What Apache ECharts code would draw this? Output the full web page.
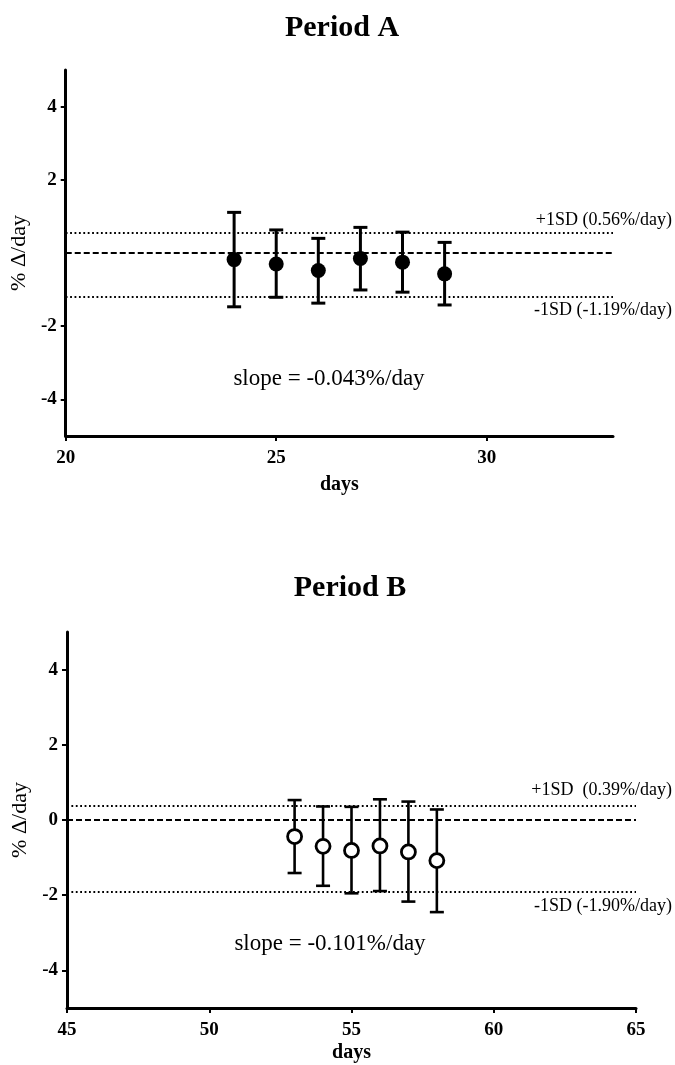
<!DOCTYPE html>
<html><head><meta charset="utf-8">
<script src="https://cdn.jsdelivr.net/npm/echarts@6/dist/echarts.min.js"></script>
<style>html,body{margin:0;padding:0;background:#fff}#c{width:675px;height:1065px}</style>
</head><body><div id="c"></div>
<script>
// ---- data ----
const titles = ['Period A', 'Period B'];
const daysA = [24, 25, 26, 27, 28, 29];
const meanA = [-0.18, -0.30, -0.48, -0.15, -0.25, -0.57];
const upperA = [1.11, 0.63, 0.40, 0.70, 0.57, 0.29];
const lowerA = [-1.47, -1.21, -1.37, -1.01, -1.07, -1.42];
const sdLinesA = [0.56, -1.19];
const sdLabelsA = ['+1SD (0.56%/day)', '-1SD (-1.19%/day)'];

const daysB = [53, 54, 55, 56, 57, 58];
const meanB = [-0.44, -0.70, -0.81, -0.69, -0.85, -1.08];
const upperB = [0.53, 0.36, 0.35, 0.55, 0.49, 0.28];
const lowerB = [-1.41, -1.75, -1.95, -1.89, -2.17, -2.45];
const sdLinesB = [0.39, -1.90];
const sdLabelsB = ['+1SD  (0.39%/day)', '-1SD (-1.90%/day)'];

const slopeLabels = ['slope = -0.043%/day', 'slope = -0.101%/day'];
const xTicksA = [20, 25, 30];
const xTicksB = [45, 50, 55, 60, 65];
const yTicksA = [4, 2, -2, -4];
const yTicksB = [4, 2, 0, -2, -4];
const xRangeA = [20, 33];
const xRangeB = [45, 65];
const yRange = [-5, 5];

// ---- chart ----
const FONT = '"Liberation Serif", "DejaVu Serif", serif';
const chart = echarts.init(document.getElementById('c'), null, {renderer: 'canvas'});

function xAxis(idx, range, ticks, gap) {
  return {
    type: 'value', gridIndex: idx, min: range[0], max: range[1],
    name: 'days', nameLocation: 'middle', nameGap: gap,
    nameTextStyle: {fontFamily: FONT, fontWeight: 'bold', fontSize: 20, color: '#000'},
    axisLine: {show: true, onZero: false, lineStyle: {color: '#000', width: 3}},
    axisTick: {show: true, length: 5, customValues: ticks, lineStyle: {color: '#000', width: 2}},
    axisLabel: {customValues: ticks, margin: 13, fontFamily: FONT, fontWeight: 'bold', fontSize: 19, color: '#000'},
    splitLine: {show: false}
  };
}
function yAxis(idx, ticks) {
  return {
    type: 'value', gridIndex: idx, min: yRange[0], max: yRange[1],
    name: '% \u0394/day', nameLocation: 'middle', nameGap: 27, nameRotate: 90,
    nameTextStyle: {fontFamily: FONT, fontSize: 22, color: '#000'},
    axisLine: {show: true, onZero: false, lineStyle: {color: '#000', width: 3}},
    axisTick: {show: true, length: 5, customValues: ticks, lineStyle: {color: '#000', width: 2}},
    axisLabel: {customValues: ticks, margin: 9, fontFamily: FONT, fontWeight: 'bold', fontSize: 19, color: '#000'},
    splitLine: {show: false}
  };
}
function errorSeries(idx, days, up, lo, lw) {
  return {
    type: 'custom', xAxisIndex: idx, yAxisIndex: idx, silent: true, z: 3,
    data: days.map((d, i) => [d, lo[i], up[i]]),
    encode: {x: 0, y: [1, 2]},
    renderItem(params, api) {
      const x = api.value(0);
      const p1 = api.coord([x, api.value(1)]);
      const p2 = api.coord([x, api.value(2)]);
      const hw = 7;
      const style = {stroke: '#000', lineWidth: lw, fill: null};
      return {type: 'group', children: [
        {type: 'line', shape: {x1: p1[0], y1: p1[1], x2: p2[0], y2: p2[1]}, style},
        {type: 'line', shape: {x1: p1[0] - hw, y1: p1[1], x2: p1[0] + hw, y2: p1[1]}, style},
        {type: 'line', shape: {x1: p2[0] - hw, y1: p2[1], x2: p2[0] + hw, y2: p2[1]}, style}
      ]};
    }
  };
}
function refLines(idx, sd) {
  return {
    type: 'line', xAxisIndex: idx, yAxisIndex: idx, data: [], silent: true, z: 1,
    markLine: {
      symbol: 'none', silent: true, animation: false, label: {show: false},
      data: [
        {yAxis: 0, lineStyle: {color: '#000', width: 2, type: [6, 3]}},
        {yAxis: sd[0], lineStyle: {color: '#000', width: 1.8, type: [1.8, 2.6]}},
        {yAxis: sd[1], lineStyle: {color: '#000', width: 1.8, type: [1.8, 2.6]}}
      ]
    }
  };
}

const option = {
  animation: false,
  backgroundColor: '#fff',
  grid: [
    {left: 65, top: 70, width: 548, height: 366},
    {left: 67, top: 632, width: 569, height: 376}
  ],
  xAxis: [xAxis(0, xRangeA, xTicksA, 39), xAxis(1, xRangeB, xTicksB, 35)],
  yAxis: [yAxis(0, yTicksA), yAxis(1, yTicksB)],
  series: [
    refLines(0, sdLinesA),
    refLines(1, sdLinesB),
    errorSeries(0, daysA, upperA, lowerA, 3),
    errorSeries(1, daysB, upperB, lowerB, 2.6),
    {type: 'scatter', xAxisIndex: 0, yAxisIndex: 0, z: 5, symbol: 'circle', symbolSize: 15,
      itemStyle: {color: '#000', opacity: 1}, data: daysA.map((d, i) => [d, meanA[i]])},
    {type: 'scatter', xAxisIndex: 1, yAxisIndex: 1, z: 5, symbol: 'circle', symbolSize: 14,
      itemStyle: {color: '#fff', borderColor: '#000', borderWidth: 2.8, opacity: 1}, data: daysB.map((d, i) => [d, meanB[i]])}
  ]
};
chart.setOption(option);

// annotations positioned from the axes
function txt(x, y, text, size, align, weight) {
  return {type: 'text', x, y, z: 10, style: {text, fontFamily: FONT, fontSize: size, fontWeight: weight || 'normal',
    fill: '#000', align: align, verticalAlign: 'middle'}};
}
const g = [];
const pA1 = chart.convertToPixel({gridIndex: 0}, [xRangeA[1], sdLinesA[0]]);
const pA2 = chart.convertToPixel({gridIndex: 0}, [xRangeA[1], sdLinesA[1]]);
const pB1 = chart.convertToPixel({gridIndex: 1}, [xRangeB[1], sdLinesB[0]]);
const pB2 = chart.convertToPixel({gridIndex: 1}, [xRangeB[1], sdLinesB[1]]);
g.push(txt(672, pA1[1] - 12, sdLabelsA[0], 18, 'right'));
g.push(txt(672, pA2[1] + 14, sdLabelsA[1], 18, 'right'));
g.push(txt(672, pB1[1] - 15, sdLabelsB[0], 18, 'right'));
g.push(txt(672, pB2[1] + 15, sdLabelsB[1], 18, 'right'));
g.push(txt(329, 379, slopeLabels[0], 23, 'center'));
g.push(txt(330, 944, slopeLabels[1], 23, 'center'));
g.push(txt(342, 28, titles[0], 30, 'center', 'bold'));
g.push(txt(350, 588, titles[1], 30, 'center', 'bold'));
chart.setOption({graphic: g});
</script></body></html>
